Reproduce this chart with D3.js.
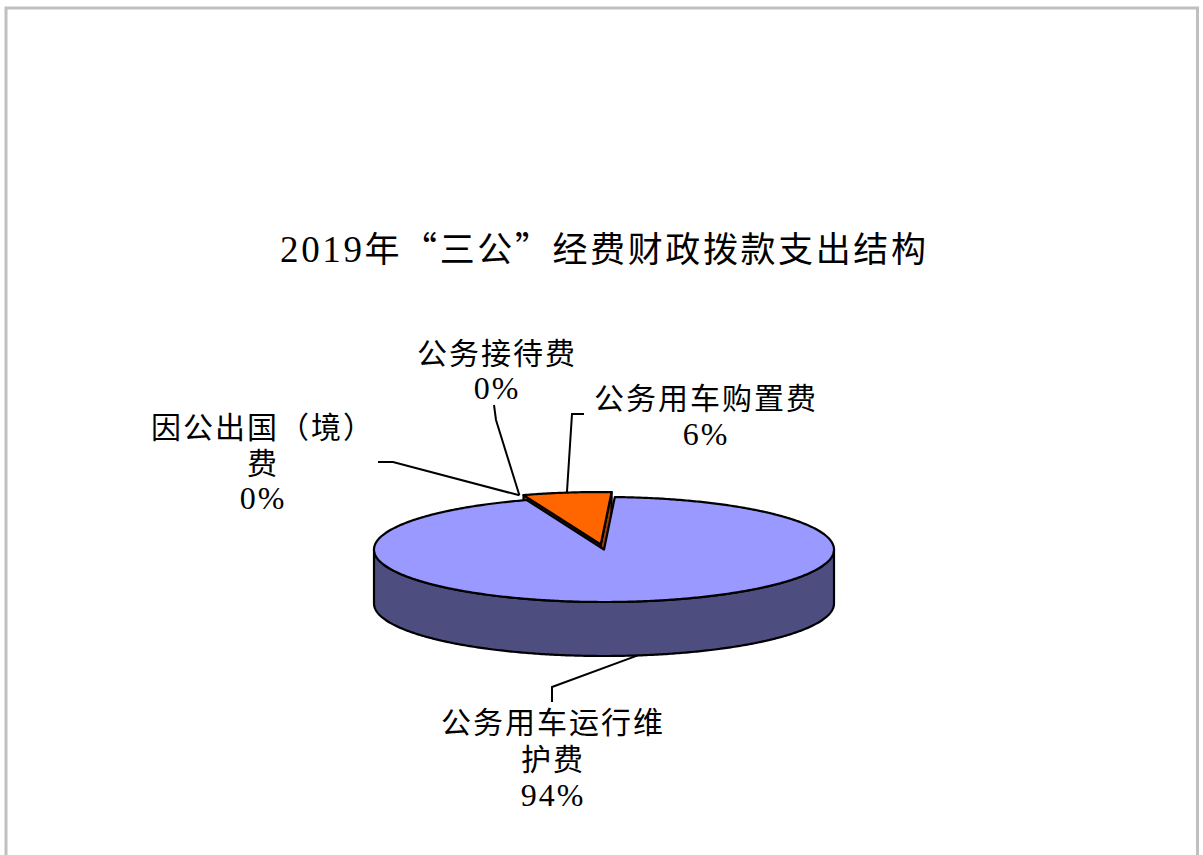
<!DOCTYPE html>
<html>
<head>
<meta charset="utf-8">
<script src="https://cdn.jsdelivr.net/npm/d3@7"></script>
<style>
  body { margin: 0; background: #fff; }
</style>
</head>
<body>
<script>
// data
var title = "2019年“三公”经费财政拨款支出结构";
var categories = ["公务用车运行维护费", "因公出国（境）费", "公务接待费", "公务用车购置费"];
var values = [93.8, 0, 0, 6.2];
var labelLines = [["公务用车运行维", "护费"], ["因公出国（境）", "费"], ["公务接待费"], ["公务用车购置费"]];
var colors = ["#9999ff", "#993366", "#ffffcc", "#ff6600"];
var sideColors = ["#4d4d80", "#4d1a33", "#808066", "#a33d00"];

var width = 1203, height = 855;
var cx = 604, cy = 549.5, rx = 230, ry = 52.5, depth = 54;
var startDeg = 2.7;
var explode = [0, 22, 22, 22];

// label layout: centre x, first baseline, elbow points of the leader
var labelPos = [
	{x: 552, y: 733, lh: 36.5, leader: [[552, 687], [552, 702]], bottom: true},
	{x: 262, y: 438, lh: 35.5, leader: [[393, 462], [378, 462]]},
	{x: 496, y: 364, lh: 35, leader: [[496, 420], [494, 405]]},
	{x: 705, y: 409, lh: 36, leader: [[572, 414], [584, 414]]}
];

var svg = d3.select("body").append("svg")
	.attr("width", width)
	.attr("height", height);

// outer frame
svg.append("rect")
	.attr("x", 6).attr("y", 8)
	.attr("width", 1191.5).attr("height", 900)
	.attr("fill", "none")
	.attr("stroke", "#c0c0c0")
	.attr("stroke-width", 3);

var total = d3.sum(values);
var rows = categories.map((c, i) => ({name: c, v: values[i], i: i}));
var pie = d3.pie().sort(null).value(d => d.v)
	.startAngle(startDeg * Math.PI / 180)
	.endAngle(startDeg * Math.PI / 180 + 2 * Math.PI);
var arcs = pie(rows);

arcs.forEach(a => {
	var mid = (a.startAngle + a.endAngle) / 2;
	var e = explode[a.data.i];
	a.off = [e * Math.sin(mid), -e * Math.cos(mid) * ry / rx];
	a.mid = mid;
});

function pt(a, off, dz) {
	return [cx + off[0] + rx * Math.sin(a), cy + off[1] - ry * Math.cos(a) + (dz || 0)];
}
function rim(a0, a1, off, dz) {
	var n = Math.max(2, Math.ceil(Math.abs(a1 - a0) / 0.01));
	return d3.range(n + 1).map(k => pt(a0 + (a1 - a0) * k / n, off, dz));
}
var line = d3.line();
var pieG = svg.append("g")
	.attr("stroke", "#000")
	.attr("stroke-width", 2.2)
	.attr("stroke-linejoin", "round");

// exploded small slices first (they sit at the back), big slice last
var order = arcs.filter(a => a.data.i != 0 && a.value > 0).concat(arcs.filter(a => a.data.i == 0));

order.forEach(a => {
	var i = a.data.i;
	var c = [cx + a.off[0], cy + a.off[1]];
	if (explode[i] > 0) {
		[a.startAngle, a.endAngle].forEach(ang => {
			var p = pt(ang, a.off), q = pt(ang, a.off, depth);
			pieG.append("path")
				.attr("d", line([c, p, q, [c[0], c[1] + depth]]) + "Z")
				.attr("fill", sideColors[i]);
		});
	}
	// front outer wall
	var w0 = Math.max(a.startAngle, Math.PI / 2), w1 = Math.min(a.endAngle, 3 * Math.PI / 2);
	if (w1 > w0) {
		var top = rim(w0, w1, a.off, 0), bot = rim(w1, w0, a.off, depth);
		pieG.append("path")
			.attr("d", line(top.concat(bot)) + "Z")
			.attr("fill", sideColors[i]);
	}
	// top face
	pieG.append("path")
		.attr("d", line([c].concat(rim(a.startAngle, a.endAngle, a.off, 0))) + "Z")
		.attr("fill", colors[i]);
});

// leader lines + labels
var fontCJK = "'Noto Sans CJK SC', sans-serif";
var fontLat = "'Liberation Serif', 'Times New Roman', serif";

// one <text> per label, one tspan per line, nested runs for latin / CJK
function richText(g, lines, x, y, lh, size, ls) {
	var t = g.append("text")
		.attr("y", y)
		.attr("text-anchor", "middle")
		.style("font-size", size + "px")
		.style("letter-spacing", ls + "px")
		.attr("fill", "#000");
	lines.forEach((str, k) => {
		var row = t.append("tspan")
			.attr("x", x + ls / 2)
			.attr("dy", k == 0 ? 0 : lh);
		str.match(/[\x00-\x7f]+|[^\x00-\x7f]+/g).forEach(run => {
			var lat = /^[\x00-\x7f]/.test(run);
			row.append("tspan")
				.style("font-family", lat ? fontLat : fontCJK)
				.style("font-size", (lat ? size + 2 : size) + "px")
				.text(run);
		});
	});
	return t;
}

richText(svg, [title], 603, 262, 0, 35, 2.6);

var lab = svg.append("g");
arcs.forEach(a => {
	var i = a.data.i, L = labelPos[i];
	var start = L.bottom ? pt(a.mid, a.off, depth) : pt(a.mid, a.off, 0);
	lab.append("path")
		.attr("d", line([start].concat(L.leader)))
		.attr("fill", "none")
		.attr("stroke", "#000")
		.attr("stroke-width", 2);
	var lines = labelLines[i].concat([Math.round(a.value / total * 100) + "%"]);
	richText(lab, lines, L.x, L.y, L.lh, 30, 2);
});
</script>
</body>
</html>
